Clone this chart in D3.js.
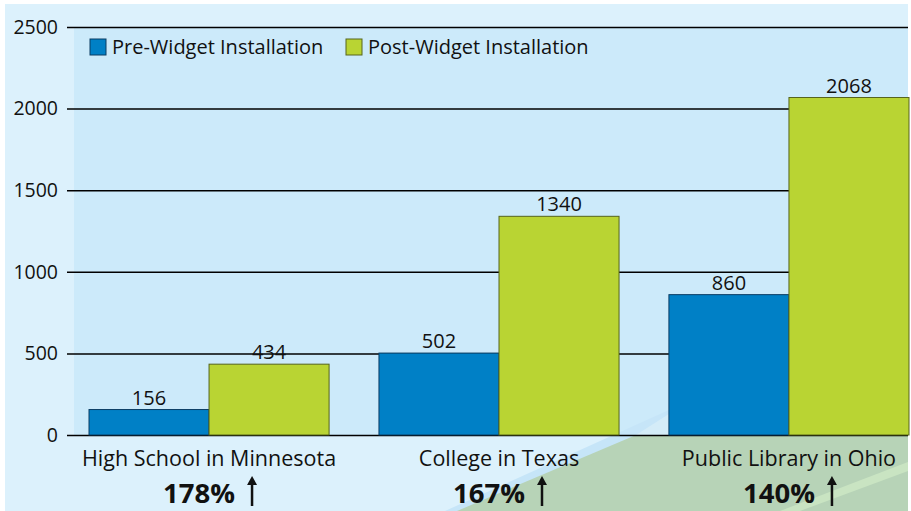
<!DOCTYPE html>
<html>
<head>
<meta charset="utf-8">
<script src="https://cdn.jsdelivr.net/npm/d3@7"></script>
<style>
  body { margin: 0; background: #fff; }
  svg text { font-family: "Open Sans", "Noto Sans", sans-serif; fill: #111; }
</style>
</head>
<body>
<div id="chart"></div>
<script>
// chart values
let categories = ["High School in Minnesota", "College in Texas", "Public Library in Ohio"];
let preValues = [156, 502, 860];
let postValues = [434, 1340, 2068];
let increases = ["178%", "167%", "140%"];
let seriesNames = ["Pre-Widget Installation", "Post-Widget Installation"];
let yTicks = [0, 500, 1000, 1500, 2000, 2500];

let width = 911, height = 511;

let svg = d3.select("#chart")
    .append("svg")
    .attr("width", width)
    .attr("height", height);

let colors = ["#0080c6", "#b9d433"];
let strokes = ["#0a3c63", "#56641c"];

// panel backgrounds
svg.append("rect")
    .attr("x", 5).attr("y", 4)
    .attr("width", 903).attr("height", height - 4)
    .attr("fill", "#dcf1fc");

let y = d3.scaleLinear()
    .domain([0, 2500])
    .range([435, 27]);

let x0 = d3.scaleBand()
    .domain(categories)
    .range([89, 909])
    .paddingInner(0.172)
    .paddingOuter(0);

let x1 = d3.scaleBand()
    .domain([0, 1])
    .range([0, x0.bandwidth()]);

svg.append("rect")
    .attr("x", 74).attr("y", y(2500))
    .attr("width", 908 - 74).attr("height", y(0) - y(2500))
    .attr("fill", "#cceafa");

// diagonal decoration, bottom right
let deco = svg.append("g");
deco.append("path")
    .attr("d", "M445,511 L680,405 L690,420 L470,511 Z")
    .attr("fill", "#c6e5f8");
deco.append("path")
    .attr("d", "M457,511 L636,435 L908,435 L908,511 Z")
    .attr("fill", "#b7d3b7");
deco.append("path")
    .attr("d", "M636,435 L672,412 L672,435 Z")
    .attr("fill", "#d4ecf8");
deco.append("path")
    .attr("d", "M780,511 L908,462 L908,471 L800,511 Z")
    .attr("fill", "#c9e4c2");

// grid + axis
let yAxis = d3.axisLeft(y)
    .tickValues(yTicks)
    .tickSize(-(908 - 67))
    .tickPadding(9)
    .tickFormat(d3.format("d"));

let axisG = svg.append("g")
    .attr("transform", "translate(67,0)")
    .call(yAxis);

axisG.select(".domain").remove();
axisG.selectAll(".tick line")
    .attr("stroke", "#000")
    .attr("stroke-width", 1.5)
    .attr("transform", "translate(841,0) scale(-1,1)");
axisG.selectAll(".tick text")
    .attr("font-size", 19.5)
    .attr("font-family", "Open Sans, sans-serif")
    .attr("fill", "#111")
    .attr("x", -9);

// bars
let groups = svg.append("g")
    .selectAll("g")
    .data(categories)
    .enter().append("g")
    .attr("transform", d => "translate(" + x0(d) + ",0)");

let barData = (d, i) => [preValues[i], postValues[i]];

groups.selectAll("rect")
    .data(barData)
    .enter().append("rect")
    .attr("x", (d, j) => x1(j))
    .attr("y", d => y(d))
    .attr("width", x1.bandwidth())
    .attr("height", d => y(0) - y(d))
    .attr("fill", (d, j) => colors[j])
    .attr("stroke", (d, j) => strokes[j])
    .attr("stroke-width", 1);

groups.selectAll(".val")
    .data(barData)
    .enter().append("text")
    .attr("class", "val")
    .attr("x", (d, j) => x1(j) + x1.bandwidth() / 2)
    .attr("y", d => y(d) - 5)
    .attr("text-anchor", "middle")
    .attr("font-size", 20)
    .text(d => d);

// category labels
groups.append("text")
    .attr("x", x0.bandwidth() / 2)
    .attr("y", 466)
    .attr("text-anchor", "middle")
    .attr("font-size", 21.5)
    .text(d => d);

groups.append("text")
    .attr("x", x0.bandwidth() / 2 + 26)
    .attr("y", 503)
    .attr("text-anchor", "end")
    .attr("font-size", 27.5)
    .attr("font-weight", "bold")
    .text((d, i) => increases[i]);

groups.append("line")
    .attr("x1", x0.bandwidth() / 2 + 43)
    .attr("x2", x0.bandwidth() / 2 + 43)
    .attr("y1", 506)
    .attr("y2", 482)
    .attr("stroke", "#111")
    .attr("stroke-width", 2.5);

groups.append("path")
    .attr("d", d => {
        let cx = x0.bandwidth() / 2 + 43;
        return "M" + (cx - 5) + ",485 L" + cx + ",476 L" + (cx + 5) + ",485 Z";
    })
    .attr("fill", "#111");

// legend
let legend = svg.append("g")
    .attr("transform", "translate(90,39)");

let legendX = [0, 256];
seriesNames.forEach((name, i) => {
    let item = legend.append("g")
        .attr("transform", "translate(" + legendX[i] + ",0)");
    item.append("rect")
        .attr("width", 16).attr("height", 16)
        .attr("fill", colors[i])
        .attr("stroke", strokes[i])
        .attr("stroke-width", 1);
    item.append("text")
        .attr("x", 22)
        .attr("y", 15)
        .attr("font-size", 20)
        .text(name);
});
</script>
</body>
</html>
